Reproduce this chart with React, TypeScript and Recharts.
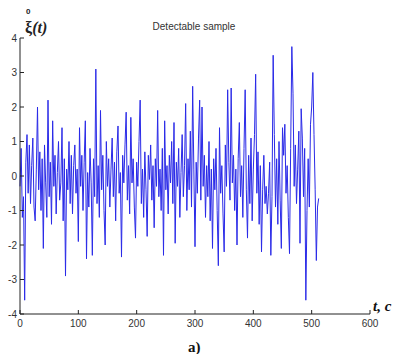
import { Line, LineChart, XAxis, YAxis } from "recharts";

const W = 396;
const H = 354;
const PLOT_LEFT = 20;
const PLOT_RIGHT = 370;
const PLOT_TOP = 38;
const PLOT_BOTTOM = 314;

const AXIS = "#222";
const SERIES = "#2a2ae8";

const X_TICKS = [0, 100, 200, 300, 400, 500, 600];
const Y_TICKS = [-4, -3, -2, -1, 0, 1, 2, 3, 4];

// samples, one every 2 units of t (t = 0 .. 512)
const SAMPLE_VALUES = [
  -0.3, 0.8, -1.2, -0.6, -3.6, 0.4, 1.2, -0.5, 0.9, -0.8,
  0.3, 1.1, -0.9, -1.3, 0.2, 2.0, -0.4, 0.7, -1.0, 0.5,
  -2.1, 0.9, -0.2, -1.2, 2.2, -0.6, 0.4, -1.4, 1.6, -0.3,
  0.6, -1.1, 0.1, 1.0, -0.7, -0.2, 1.4, -1.3, 0.5, -2.9,
  0.2, -0.4, 1.0, -0.8, 0.6, -1.1, 0.3, 0.9, -0.5, 0.2,
  -1.9, 1.4, -0.3, 0.6, -1.0, 0.4, 1.6, -2.4, 0.1, -0.9,
  0.8, -0.2, -2.3, 0.5, -0.6, 3.1, -0.8, 0.3, -1.2, 1.9,
  -0.4, 0.6, -1.0, -2.0, 1.0, -0.3, 0.5, -0.9, 0.2, 1.1,
  -0.6, 0.4, -1.3, 0.7, 1.45, -0.5, 0.1, -2.35, 0.6, -0.2,
  0.9, 1.85, -0.7, 0.3, -1.1, 1.7, -0.2, 0.5, -0.9, -1.8,
  0.4, -0.3, 1.0, 2.2, -0.8, 0.2, -1.2, 0.7, -0.4, -1.75,
  0.6, -0.1, 0.9, -0.7, 0.3, -1.5, 0.5, -0.3, 1.9, -0.6,
  0.2, -1.0, 0.8, -2.3, 1.6, -0.4, 0.3, -1.1, 0.6, -0.2,
  1.0, -0.8, 1.55, -1.95, 0.4, -0.3, 0.8, -1.2, 0.1, 1.2,
  -0.6, 0.3, 2.1, -1.0, 0.5, -0.4, 1.3, -0.9, 2.6, 0.2,
  -2.05, 0.4, -0.5, 1.1, 2.2, -0.7, 2.0, -0.3, 0.6, -1.2,
  0.3, -0.6, 1.0, -1.3, 0.2, -2.1, 0.5, -0.4, 0.8, -1.0,
  -2.6, 1.4, -0.5, 0.3, -1.1, -2.2, 0.9, -0.3, 2.5, 0.4,
  -0.7, 2.55, -0.2, 0.6, -1.0, 0.2, -2.0, 0.5, 1.55, -0.6,
  0.3, -1.2, 0.8, 2.5, -0.4, -1.8, 0.6, -0.8, 1.1, -1.3,
  0.2, 1.2, 2.95, -0.5, 0.7, -1.4, 0.3, -2.2, -0.4, 0.6,
  -0.8, -0.3, -1.1, -0.5, 0.4, -2.3, -0.6, 3.5, 1.2, -0.9,
  0.5, -1.4, 1.0, -0.7, -2.1, 1.4, 0.6, 1.5, -0.5, 0.3,
  -1.2, -2.25, 0.8, 3.75, 2.4, -0.3, 0.9, -0.8, 0.2, 1.3,
  -1.95, 1.95, 1.1, -0.6, 0.8, -3.6, -1.0, 0.5, -0.9, 1.5,
  2.0, 3.0, 1.2, -0.4, -2.45, -0.9, -0.65,
];
const SAMPLE_STEP = 2;

const data = SAMPLE_VALUES.map((v, i) => ({ t: i * SAMPLE_STEP, xi: v }));

const labelStyle = {
  fontFamily: "Arial, 'Liberation Sans', sans-serif",
  fontSize: 10,
  fill: "#333",
};

function BottomTick({ x, payload }: any) {
  return (
    <g>
      <line x1={x} x2={x} y1={PLOT_BOTTOM} y2={PLOT_BOTTOM - 4} stroke={AXIS} />
      <text x={x} y={PLOT_BOTTOM + 13} textAnchor="middle" {...labelStyle}>
        {payload.value}
      </text>
    </g>
  );
}

function TopTick({ x }: any) {
  return <line x1={x} x2={x} y1={PLOT_TOP} y2={PLOT_TOP + 4} stroke={AXIS} />;
}

function LeftTick({ y, payload }: any) {
  return (
    <g>
      <line x1={PLOT_LEFT} x2={PLOT_LEFT + 4} y1={y} y2={y} stroke={AXIS} />
      <text x={PLOT_LEFT - 3} y={y + 3.5} textAnchor="end" {...labelStyle}>
        {payload.value}
      </text>
    </g>
  );
}

function RightTick({ y }: any) {
  return <line x1={PLOT_RIGHT} x2={PLOT_RIGHT - 4} y1={y} y2={y} stroke={AXIS} />;
}

export default function App() {
  return (
    <div
      style={{
        position: "fixed",
        left: 0,
        top: 0,
        width: W,
        height: H,
        background: "#fff",
      }}
    >
      <LineChart
        width={W}
        height={H}
        data={data}
        margin={{ top: PLOT_TOP, right: W - PLOT_RIGHT, left: 0, bottom: 0 }}
      >
        <XAxis
          dataKey="t"
          type="number"
          domain={[0, 600]}
          ticks={X_TICKS}
          height={H - PLOT_BOTTOM}
          axisLine={{ stroke: AXIS }}
          tickLine={false}
          tick={<BottomTick />}
        />
        <XAxis
          xAxisId="top"
          orientation="top"
          dataKey="t"
          type="number"
          domain={[0, 600]}
          ticks={X_TICKS.slice(1, -1)}
          height={0}
          axisLine={{ stroke: AXIS }}
          tickLine={false}
          tick={<TopTick />}
        />
        <YAxis
          type="number"
          domain={[-4, 4]}
          ticks={Y_TICKS}
          width={PLOT_LEFT}
          axisLine={{ stroke: AXIS }}
          tickLine={false}
          tick={<LeftTick />}
        />
        <YAxis
          yAxisId="right"
          orientation="right"
          type="number"
          domain={[-4, 4]}
          ticks={Y_TICKS.slice(1, -1)}
          width={0}
          axisLine={{ stroke: AXIS }}
          tickLine={false}
          tick={<RightTick />}
        />
        <Line
          dataKey="xi"
          type="linear"
          stroke={SERIES}
          strokeWidth={1}
          dot={false}
          isAnimationActive={false}
        />
      </LineChart>
      <svg
        width={W}
        height={H}
        style={{ position: "absolute", left: 0, top: 0, pointerEvents: "none" }}
      >
        <text x={194} y={30} textAnchor="middle" {...labelStyle}>
          Detectable sample
        </text>
        <text
          x={26}
          y={14}
          fontFamily="'Liberation Sans', Arial, sans-serif"
          fontSize={8}
          fontWeight="bold"
          fill="#222"
        >
          0
        </text>
        <text
          x={25}
          y={33}
          fontFamily="'Liberation Serif', 'Times New Roman', serif"
          fontSize={16}
          fontWeight="bold"
          fill="#222"
        >
          ξ<tspan fontStyle="italic">(t)</tspan>
        </text>
        <text
          x={373}
          y={311}
          fontFamily="'Liberation Serif', 'Times New Roman', serif"
          fontSize={15}
          fontWeight="bold"
          fontStyle="italic"
          fill="#111"
        >
          t, c
        </text>
        <text
          x={188}
          y={352}
          fontFamily="'Liberation Serif', 'Times New Roman', serif"
          fontSize={15}
          fontWeight="bold"
          fill="#111"
        >
          a)
        </text>
      </svg>
    </div>
  );
}
